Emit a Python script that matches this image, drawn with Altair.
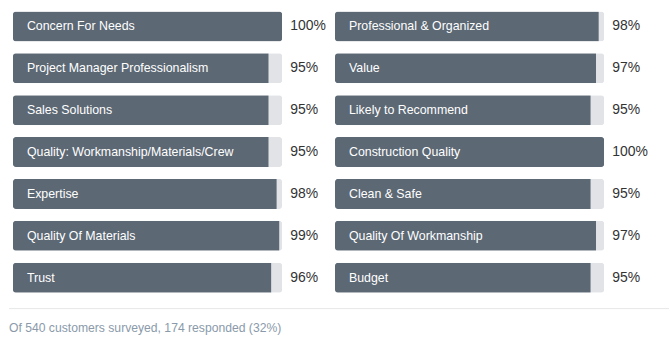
import altair as alt
import pandas as pd

left_labels = ["Concern For Needs", "Project Manager Professionalism", "Sales Solutions",
               "Quality: Workmanship/Materials/Crew", "Expertise", "Quality Of Materials", "Trust"]
left_values = [100, 95, 95, 95, 98, 99, 96]
right_labels = ["Professional & Organized", "Value", "Likely to Recommend", "Construction Quality",
                "Clean & Safe", "Quality Of Workmanship", "Budget"]
right_values = [98, 97, 95, 100, 95, 97, 95]
footer_text = ["Of 540 customers surveyed, 174 responded (32%)"]

FILL = "#5c6874"
TRACK = "#e1e3e6"
FONT = "Liberation Sans, Arial, Helvetica, sans-serif"


def panel(labels, values, extra=()):
    df = pd.DataFrame({"label": labels, "value": values,
                       "pct": [f"{v}%" for v in values]})
    base = alt.Chart(df).encode(
        y=alt.Y("label:N", sort=None, axis=None,
                scale=alt.Scale(paddingInner=2 / 7, paddingOuter=1 / 7)),
    )
    xs = alt.Scale(domain=[0, 100])
    track = base.mark_bar(color=TRACK, cornerRadius=3).encode(
        x=alt.X("max_v:Q", scale=xs, axis=None)
    ).transform_calculate(max_v="100")
    fill_part = base.mark_bar(color=FILL, cornerRadiusTopLeft=3, cornerRadiusBottomLeft=3).encode(
        x=alt.X("value:Q", scale=xs, axis=None)
    ).transform_filter("datum.value < 100")
    fill_full = base.mark_bar(color=FILL, cornerRadius=3).encode(
        x=alt.X("value:Q", scale=xs, axis=None)
    ).transform_filter("datum.value >= 100")
    lab = base.mark_text(align="left", baseline="middle", dx=14, color="white",
                         font=FONT, fontSize=12.4).encode(
        x=alt.datum(0), text="label:N")
    pct = base.mark_text(align="left", baseline="middle", dx=8, color="#333333",
                         font=FONT, fontSize=14).encode(
        x=alt.datum(100), text="pct:N")
    return alt.layer(track, fill_part, fill_full, lab, pct, *extra).properties(width=270, height=294)


fdf = pd.DataFrame({"t": footer_text})
rule = alt.Chart(fdf).mark_rule(color="#e6e8ea", strokeWidth=1).encode(
    x=alt.value(-4), x2=alt.value(658), y=alt.value(304))
ftext = alt.Chart(fdf).mark_text(align="left", baseline="middle", color="#8a9aaa",
                                 font=FONT, fontSize=12.2).encode(
    x=alt.value(-4), y=alt.value(323), text="t:N")

chart = alt.hconcat(
    panel(left_labels, left_values, extra=(rule, ftext)),
    panel(right_labels, right_values),
    spacing=53, bounds="flush",
).properties(
    padding={"left": 8, "top": 5, "right": 0, "bottom": 0}
).configure_view(strokeWidth=0)

chart.save("out.html", embed_options={"renderer": "svg", "actions": False})
